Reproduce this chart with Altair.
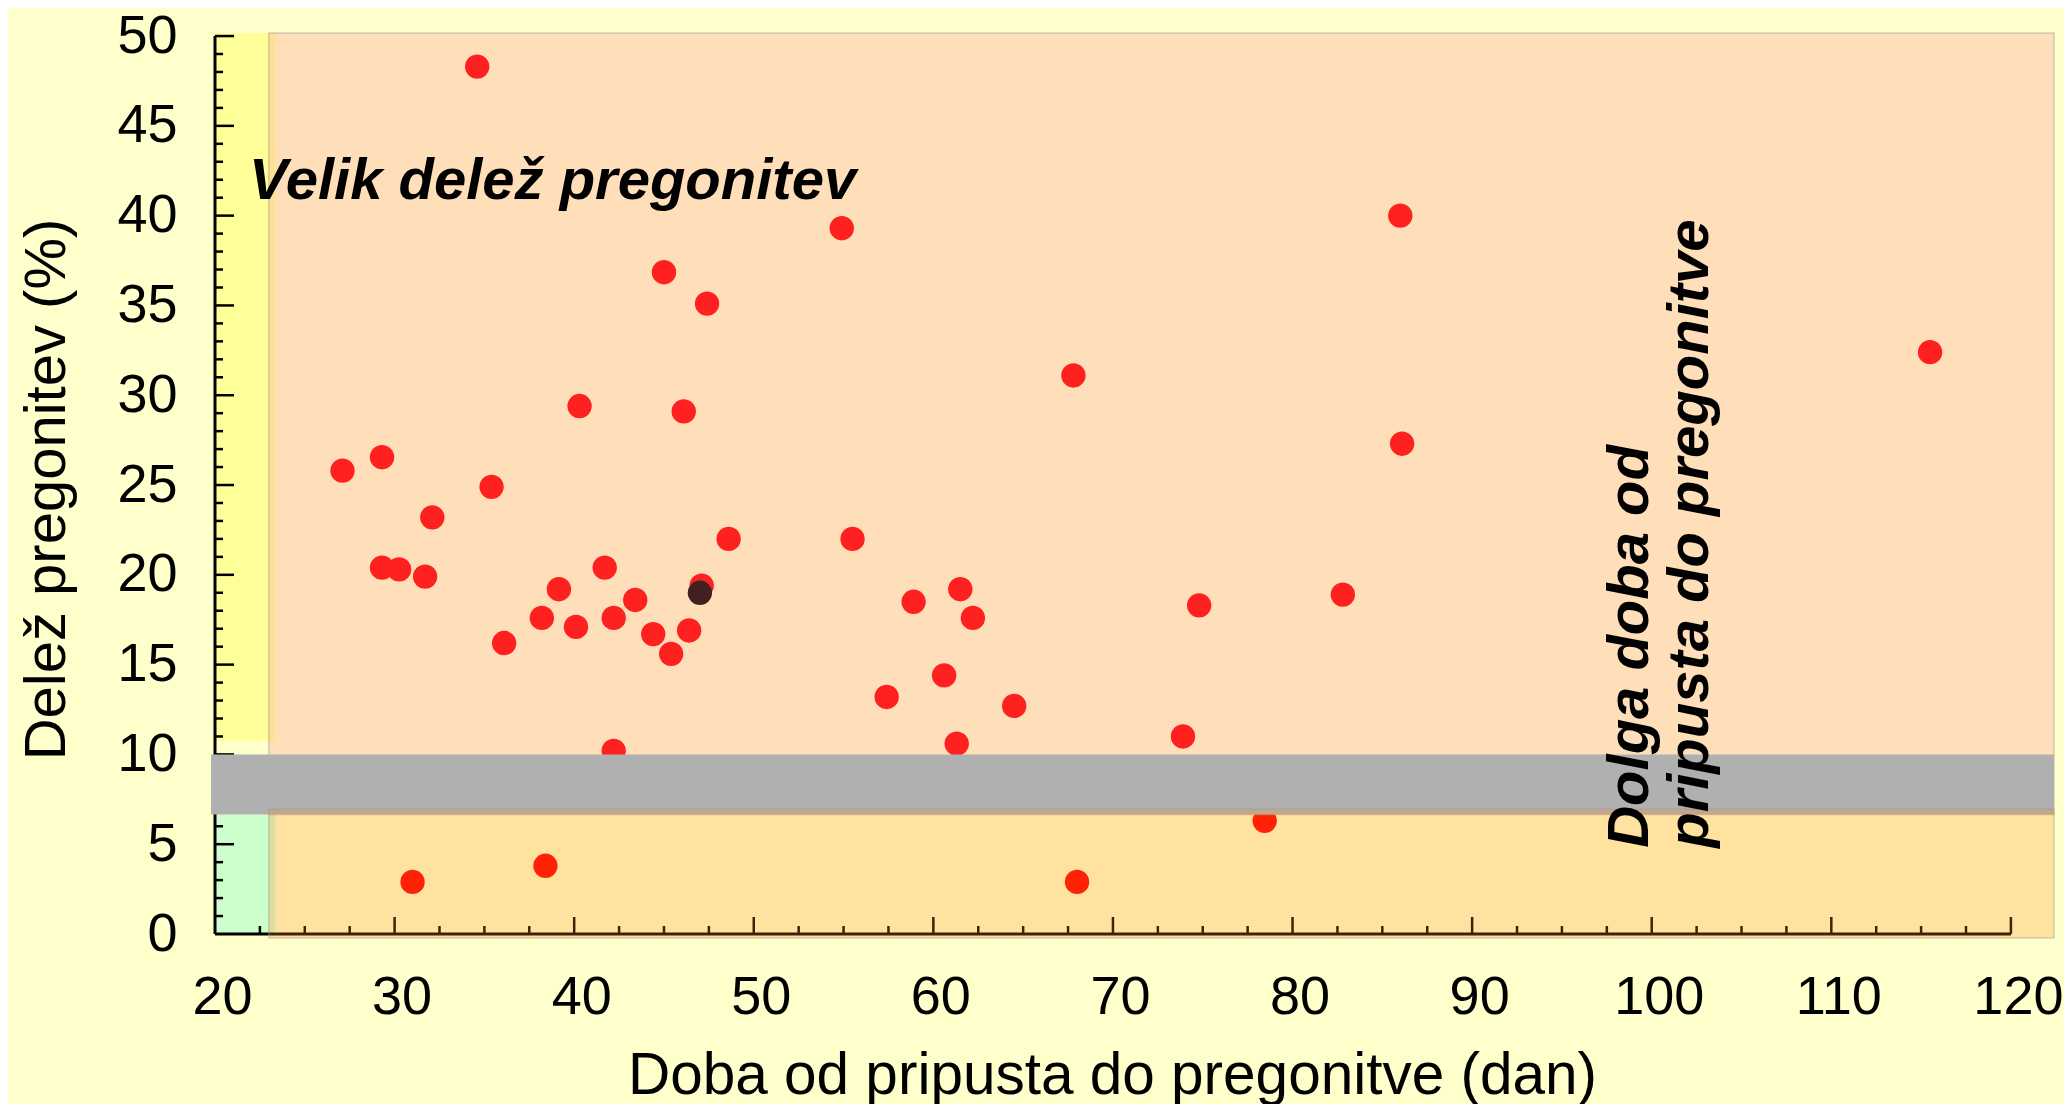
import altair as alt
import pandas as pd

# ---------------- data ----------------
# days from mating to pregnancy (x) and share of returns to heat (%) (y)
days = [34.6, 54.9, 86.0, 45.0, 47.4, 115.5, 67.8, 40.3, 46.1, 86.1,
        27.1, 29.3, 35.4, 32.1, 48.6, 55.5, 29.3, 30.25, 31.7, 41.7,
        39.15, 47.1, 61.5, 82.8, 43.4, 58.9, 74.8, 38.2, 42.2, 62.2,
        40.1, 44.4, 46.4, 36.1, 45.4, 57.4, 60.6, 64.5, 73.9, 42.2,
        61.3, 78.45, 38.4, 31.0, 68.0]
shares = [48.3, 39.3, 40.0, 36.85, 35.1, 32.4, 31.1, 29.4, 29.1, 27.3,
          25.8, 26.55, 24.9, 23.2, 22.0, 22.0, 20.4, 20.3, 19.9, 20.4,
          19.2, 19.4, 19.2, 18.9, 18.6, 18.5, 18.3, 17.6, 17.6, 17.6,
          17.1, 16.7, 16.9, 16.2, 15.6, 13.2, 14.4, 12.7, 11.0, 10.2,
          10.6, 6.3, 3.8, 2.9, 2.9]
# highlighted herd (dark point)
hl_days = [47.0]
hl_shares = [19.0]

# background zones (thresholds in data units)
zone_names = ["yellow", "green", "salmon", "gray", "orange"]
zone_x0 = [20.0, 20.0, 23.0, 19.78, 23.0]
zone_x1 = [23.35, 23.35, 122.4, 122.4, 122.4]
zone_y0 = [10.76, 0.0, 6.66, 6.66, -0.22]
zone_y1 = [50.17, 6.66, 50.17, 10.0, 6.94]

# tick values
x_labels = [20, 30, 40, 50, 60, 70, 80, 90, 100, 110, 120]
x_major_ticks = [30, 40, 50, 60, 70, 80, 90, 100, 110, 120]
x_minor_ticks = [v + d for v in range(20, 120, 10) for d in (2.5, 5.0, 7.5)]
y_labels = [0, 5, 10, 15, 20, 25, 30, 35, 40, 45, 50]
y_major_ticks = [5, 10, 15, 20, 25, 30, 35, 40, 45, 50]
y_minor_ticks = [v for v in range(1, 50) if v % 5 != 0]

x_title = "Doba od pripusta do pregonitve (dan)"
y_title = "Delež pregonitev (%)"
note_high = "Velik delež pregonitev"
note_long = "Dolga doba od\npripusta do pregonitve"

# ---------------- layout constants ----------------
PX_PER_UNIT = 17.96
W = 1839
H = 901
MAJ_LEN_X = 17 / PX_PER_UNIT
MIN_LEN = 8 / PX_PER_UNIT
MAJ_LEN_Y = 19 / PX_PER_UNIT
FONT = "Liberation Sans"

xs = alt.Scale(domain=[20, 122.4], nice=False, zero=False)
ys = alt.Scale(domain=[0, 50.17], nice=False, zero=False)

x_axis = alt.Axis(values=x_labels, title=x_title, domain=False, ticks=False,
                  tickSize=0, grid=False, labelFont=FONT, labelFontSize=54,
                  labelColor="black", labelPadding=79, labelBaseline="alphabetic",
                  labelOffset=7, labelFlush=False, labelOverlap=False,
                  titleFont=FONT, titleFontSize=58.5, titleFontWeight="normal",
                  titleColor="black", titleX=897, titleY=159,
                  titleBaseline="alphabetic", titleAlign="center")
y_axis = alt.Axis(values=y_labels, title=y_title, domain=False, ticks=False,
                  tickSize=0, grid=False, labelFont=FONT, labelFontSize=54,
                  labelColor="black", labelPadding=38, labelBaseline="middle",
                  labelAlign="right", labelFlush=False, labelOverlap=False,
                  titleFont=FONT, titleFontSize=58, titleFontWeight="normal",
                  titleColor="black", titleX=-151, titleY=456, titleAngle=270,
                  titleBaseline="alphabetic", titleAlign="center")


def X(field):
    return alt.X(field, scale=xs, axis=x_axis, title=x_title)


def Y(field):
    return alt.Y(field, scale=ys, axis=y_axis, title=y_title)


zones = pd.DataFrame(dict(zone=zone_names, x0=zone_x0, x1=zone_x1,
                          y0=zone_y0, y1=zone_y1))


def zone_layer(name, **mark):
    return (alt.Chart(zones)
            .transform_filter(alt.datum.zone == name)
            .mark_rect(**mark)
            .encode(x=X("x0:Q"), x2="x1:Q", y=Y("y0:Q"), y2="y1:Q"))


yellow = zone_layer("yellow", color="#FFFF99")
green = zone_layer("green", color="#CCFFCC")
salmon = zone_layer("salmon", fill="#FF8080", fillOpacity=0.25,
                    stroke="#9A9A9A", strokeOpacity=0.45, strokeWidth=1.5)
gray = zone_layer("gray", color="#B0B0B0")
orange = zone_layer("orange", fill="#FF891A", fillOpacity=0.25,
                    stroke="#9A9A9A", strokeOpacity=0.45, strokeWidth=1.5)

# axis lines
x_line = (alt.Chart(pd.DataFrame({"a": [min(x_labels)], "b": [max(x_labels)], "y": [0]}))
          .mark_rule(color="black", strokeWidth=3)
          .encode(x=X("a:Q"), x2="b:Q", y=Y("y:Q")))
y_line = (alt.Chart(pd.DataFrame({"a": [min(y_labels)], "b": [max(y_labels)], "x": [20]}))
          .mark_rule(color="black", strokeWidth=3)
          .encode(y=Y("a:Q"), y2="b:Q", x=X("x:Q")))


def x_ticks(vals, length):
    df = pd.DataFrame({"v": vals, "y0": 0.0, "y1": length})
    return (alt.Chart(df).mark_rule(color="black", strokeWidth=2.5)
            .encode(x=X("v:Q"), y=Y("y0:Q"), y2="y1:Q"))


def y_ticks(vals, length):
    df = pd.DataFrame({"v": vals, "x0": 20.0, "x1": 20.0 + length})
    return (alt.Chart(df).mark_rule(color="black", strokeWidth=2.5)
            .encode(y=Y("v:Q"), x=X("x0:Q"), x2="x1:Q"))


points = (alt.Chart(pd.DataFrame({"dan": days, "delez": shares}))
          .mark_circle(size=594, opacity=1, color="#FF0000")
          .encode(x=X("dan:Q"), y=Y("delez:Q")))
highlight = (alt.Chart(pd.DataFrame({"dan": hl_days, "delez": hl_shares}))
             .mark_circle(size=594, opacity=1, color="#000000")
             .encode(x=X("dan:Q"), y=Y("delez:Q")))

txt_high = (alt.Chart(pd.DataFrame({"t": [note_high]}))
            .mark_text(font=FONT, fontSize=58, fontWeight="bold", fontStyle="italic",
                       align="left", baseline="alphabetic", color="black")
            .encode(x=alt.datum(21.9), y=alt.datum(40.9), text="t:N"))
txt_long = (alt.Chart(pd.DataFrame({"t": [note_long]}))
            .mark_text(font=FONT, fontSize=58, fontWeight="bold", fontStyle="italic",
                       align="left", baseline="alphabetic", color="black",
                       angle=270, lineBreak="\n", lineHeight=60)
            .encode(x=alt.datum(99.8), y=alt.datum(4.8), text="t:N"))

chart = (alt.layer(yellow, green,
                   x_ticks(x_major_ticks, MAJ_LEN_X), x_ticks(x_minor_ticks, MIN_LEN),
                   y_ticks(y_major_ticks, MAJ_LEN_Y), y_ticks(y_minor_ticks, MIN_LEN),
                   x_line, y_line,
                   points, highlight,
                   salmon, gray, orange,
                   txt_high, txt_long)
         .properties(width=W, height=H,
                     padding={"left": 207, "top": 25, "right": 10, "bottom": 170},
                     autosize=alt.AutoSizeParams(type="none"))
         .configure(background="#FFFFCC")
         .configure_view(stroke=None))

chart.save("out.html", embed_options={"renderer": "svg", "actions": False})
